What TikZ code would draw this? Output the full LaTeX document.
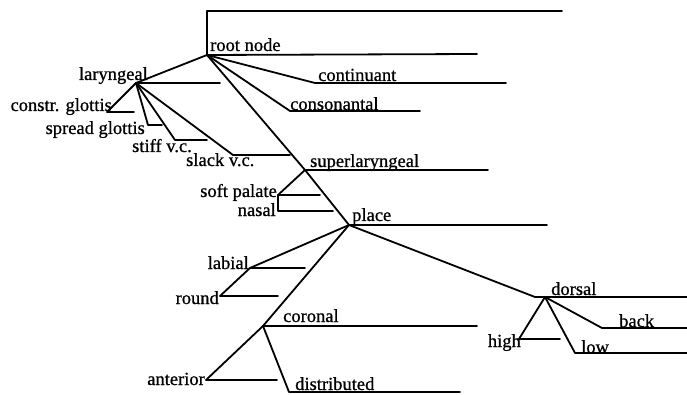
\documentclass[tikz,border=0pt]{standalone}
\usepackage{fontspec}
\setmainfont{Liberation Serif}
\newfontfamily\lblfont{Liberation Serif}[FakeBold=0.8]
\begin{document}
\begin{tikzpicture}[x=1pt,y=-1pt,
  edge/.style={line width=1.8pt, line join=round, line cap=round},
  lbl/.style={inner sep=0pt, font=\lblfont\fontsize{18.5}{20}\selectfont},
  lw/.style={lbl, anchor=base west},
  le/.style={lbl, anchor=base east}]
\useasboundingbox (0,0) rectangle (687,395);
% points
\coordinate (root) at (207,55);
\coordinate (rootTop) at (207,11);
\coordinate (rootTopEnd) at (562,11);
\coordinate (rootEnd) at (477,54);
\coordinate (lar) at (136,83);
\coordinate (larEnd) at (220,83);
\coordinate (cg) at (107,112);
\coordinate (cgEnd) at (134,112);
\coordinate (sg) at (148,125);
\coordinate (sgEnd) at (162,125);
\coordinate (stf) at (175,140);
\coordinate (stfEnd) at (207,140);
\coordinate (slk) at (233,155);
\coordinate (slkEnd) at (290,155);
\coordinate (cont) at (315,83);
\coordinate (contEnd) at (506,83);
\coordinate (cons) at (290,111);
\coordinate (consEnd) at (420,111);
\coordinate (sup) at (305,170);
\coordinate (supEnd) at (488,170);
\coordinate (sp) at (278,195);
\coordinate (spEnd) at (320,195);
\coordinate (nas) at (278,211);
\coordinate (nasEnd) at (333,211);
\coordinate (pl) at (349,225);
\coordinate (plEnd) at (547,225);
\coordinate (lab) at (250,268);
\coordinate (labEnd) at (305,268);
\coordinate (rnd) at (220,296);
\coordinate (rndEnd) at (278,296);
\coordinate (cor) at (263,326);
\coordinate (corEnd) at (477,326);
\coordinate (ant) at (206,380);
\coordinate (antEnd) at (277,380);
\coordinate (dis) at (289,392);
\coordinate (disEnd) at (460,392);
\coordinate (dorIn) at (535,297);
\coordinate (dor) at (545,297);
\coordinate (dorEnd) at (687,297);
\coordinate (hi) at (519,339);
\coordinate (hiEnd) at (560,339);
\coordinate (bk) at (602,328);
\coordinate (bkEnd) at (687,328);
\coordinate (lo) at (575,353);
\coordinate (loEnd) at (687,353);
% connectors
\draw[edge] (rootTopEnd) -- (rootTop) -- (root);
\draw[edge] (root) -- (rootEnd);
\draw[edge] (root) -- (lar) -- (larEnd);
\draw[edge] (lar) -- (cg) -- (cgEnd);
\draw[edge] (lar) -- (sg) -- (sgEnd);
\draw[edge] (lar) -- (stf) -- (stfEnd);
\draw[edge] (lar) -- (slk) -- (slkEnd);
\draw[edge] (root) -- (cont) -- (contEnd);
\draw[edge] (root) -- (cons) -- (consEnd);
\draw[edge] (root) -- (sup) -- (supEnd);
\draw[edge] (sup) -- (sp) -- (spEnd);
\draw[edge] (sp) -- (nas) -- (nasEnd);
\draw[edge] (sup) -- (pl) -- (plEnd);
\draw[edge] (pl) -- (lab) -- (labEnd);
\draw[edge] (lab) -- (rnd) -- (rndEnd);
\draw[edge] (pl) -- (cor) -- (corEnd);
\draw[edge] (cor) -- (ant) -- (antEnd);
\draw[edge] (cor) -- (dis) -- (disEnd);
\draw[edge] (pl) -- (dorIn) -- (dorEnd);
\draw[edge] (dor) -- (hi) -- (hiEnd);
\draw[edge] (dor) -- (bk) -- (bkEnd);
\draw[edge] (dor) -- (lo) -- (loEnd);
% labels
\node[lw] (tRoot) at (210,51) {root node};
\node[lw] (tCont) at (318,81) {continuant};
\node[lw] (tCons) at (290,110) {consonantal};
\node[lw] (tSup) at (310,167) {superlaryngeal};
\node[le] (tLar) at (148,80) {laryngeal};
\node[le] (tCg) at (112,111) {constr. glottis};
\node[le] (tSg) at (145,134) {spread glottis};
\node[lw] (tStf) at (132,152) {stiff v.c.};
\node[lw] (tSlk) at (186,166) {slack v.c.};
\node[le] (tSp) at (277,197) {soft palate};
\node[le] (tNas) at (276,216) {nasal};
\node[lw] (tPl) at (352,221) {place};
\node[le] (tLab) at (249,269) {labial};
\node[le] (tRnd) at (219,304) {round};
\node[lw] (tCor) at (283,322) {coronal};
\node[le] (tAnt) at (205,385) {anterior};
\node[lw] (tDis) at (295,390) {distributed};
\node[lw] (tDor) at (551,295) {dorsal};
\node[lw] (tBk) at (619,327) {back};
\node[le] (tHi) at (521,347) {high};
\node[lw] (tLo) at (581,353) {low};
\end{tikzpicture}
\end{document}
